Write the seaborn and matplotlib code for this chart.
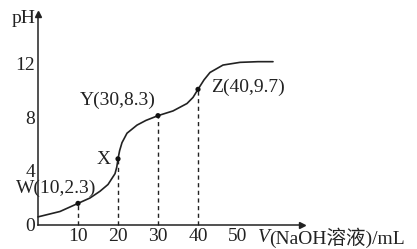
import matplotlib
matplotlib.use("Agg")
import matplotlib.pyplot as plt
import seaborn as sns
import pandas as pd

sns.set_theme(style="white")
plt.rcParams['font.family'] = ['Liberation Serif', 'Noto Sans CJK SC', 'DejaVu Sans']

# curve
vol = [0, 5.5, 10, 13, 15.5, 17.5, 19.25, 19.7, 20, 20.4, 21, 22.25, 24.75, 27, 30,
       33.75, 37.25, 38.75, 40, 41.5, 43, 46.25, 50.5, 55, 58.75]
ph = [0.6, 1.0, 1.6, 2.0, 2.5, 3.0, 3.8, 4.3, 4.9, 5.5, 6.1, 6.8, 7.4, 7.75, 8.1,
      8.45, 9.0, 9.45, 10.05, 10.75, 11.3, 11.85, 12.05, 12.1, 12.1]

# marked points
pt_names = ["W(10,2.3)", "X", "Y(30,8.3)", "Z(40,9.7)"]
pt_x = [10, 20, 30, 40]
pt_y = [1.6, 4.9, 8.1, 10.05]

x_ticks = [10, 20, 30, 40, 50]
y_ticks = [0, 4, 8, 12]

FS = 14

fig = plt.figure(figsize=(4.17, 2.49), dpi=100)
ax = fig.add_axes([0, 0, 1, 1])
ax.set_xlim(-9.5, 94.75)
ax.set_ylim(-1.78, 16.67)
ax.set_facecolor("white")

df = pd.DataFrame({"V": vol, "pH": ph})
sns.lineplot(data=df, x="V", y="pH", ax=ax, color="#222222", lw=1.2)
pts = pd.DataFrame({"V": pt_x, "pH": pt_y})
sns.scatterplot(data=pts, x="V", y="pH", ax=ax, color="#111111", s=14, zorder=5, edgecolor="none")

for xv, yv in zip(pt_x, pt_y):
    ax.plot([xv, xv], [0, yv], ls=(0, (3, 2.5)), color="#222222", lw=1.0)

# axes as arrows
for s in ["top", "right"]:
    ax.spines[s].set_visible(False)
ax.spines["left"].set_position(("data", 0))
ax.spines["bottom"].set_position(("data", 0))
ax.spines["left"].set_bounds(0, 15.4)
ax.spines["bottom"].set_bounds(0, 65.5)
for s in ["left", "bottom"]:
    ax.spines[s].set_color("#222222")
    ax.spines[s].set_linewidth(1.1)
ax.plot([0], [15.6], marker="^", color="#222222", ms=5, clip_on=False)
ax.plot([66], [0], marker=">", color="#222222", ms=5, clip_on=False)

ax.set_xticks(x_ticks)
ax.set_yticks(y_ticks)
ax.set_xticklabels([str(v) for v in x_ticks], fontsize=FS)
ax.set_yticklabels([str(v) for v in y_ticks], fontsize=FS)
ax.tick_params(axis="both", direction="in", length=3, width=1, color="#222222", pad=2, labelcolor="#222222")
ax.tick_params(axis="x", pad=2)
ax.set_xlabel("")
ax.set_ylabel("")

ax.text(-0.6, 15.3, "pH", fontsize=FS, ha="right", va="center", color="#222222")
ax.text(55, -0.95, "V", fontsize=FS, style="italic", ha="left", va="center", color="#222222")
ax.text(57.9, -0.95, "(NaOH溶液)/mL", fontsize=FS, ha="left", va="center", color="#222222")

label_pos = [(4.5, 2.75), (16.5, 4.85), (20.0, 9.25), (52.5, 10.2)]
for name, (lx, ly) in zip(pt_names, label_pos):
    ax.text(lx, ly, name, fontsize=FS, ha="center", va="center", color="#222222")

fig.savefig("out.png", dpi=100, facecolor="white")
